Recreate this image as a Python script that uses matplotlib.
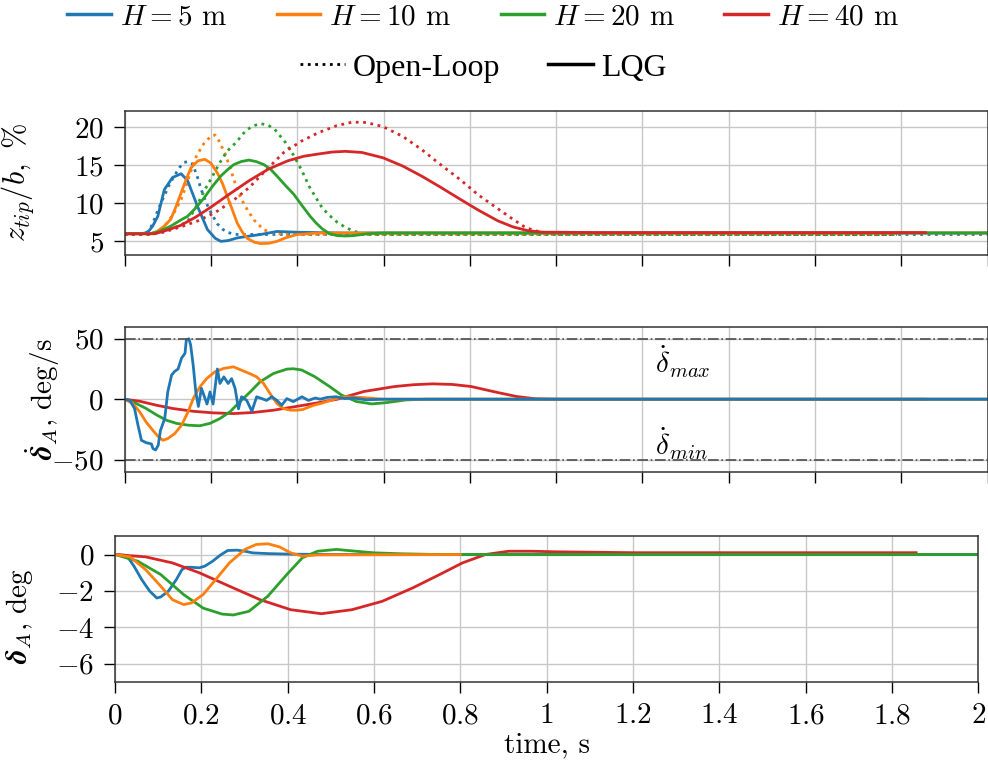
import matplotlib
matplotlib.use("Agg")
import matplotlib.pyplot as plt
from matplotlib.lines import Line2D
from matplotlib.ticker import FuncFormatter

plt.rcParams['mathtext.fontset'] = 'cm'
plt.rcParams['font.family'] = 'serif'
plt.rcParams['font.serif'] = ['cmr10', 'DejaVu Serif']
plt.rcParams['axes.formatter.use_mathtext'] = True

colors = ['#1f77b4', '#ff7f0e', '#2ca02c', '#d62728']
heights = [5, 10, 20, 40]

# ---- tip deflection z_tip/b, %  (LQG solid, open-loop dotted)
zt_lqg_t = [
    [0, 0.04, 0.054, 0.065, 0.077, 0.092, 0.111, 0.131, 0.146, 0.169, 0.192, 0.21, 0.223, 0.24, 0.261, 0.29, 0.315, 0.353, 0.4, 0.5, 1.0, 2.0],
    [0, 0.06, 0.075, 0.09, 0.107, 0.12, 0.131, 0.143, 0.154, 0.17, 0.186, 0.2, 0.215, 0.227, 0.238, 0.25, 0.261, 0.273, 0.284, 0.3, 0.315, 0.335, 0.353, 0.375, 0.4, 0.45, 0.6, 2.0],
    [0, 0.06, 0.08, 0.107, 0.13, 0.146, 0.165, 0.184, 0.203, 0.223, 0.238, 0.253, 0.27, 0.288, 0.305, 0.323, 0.338, 0.353, 0.372, 0.392, 0.41, 0.43, 0.444, 0.458, 0.475, 0.493, 0.511, 0.53, 0.564, 0.6, 0.7, 2.0],
    [0, 0.07, 0.1, 0.13, 0.165, 0.2, 0.245, 0.289, 0.333, 0.378, 0.415, 0.449, 0.48, 0.511, 0.55, 0.599, 0.645, 0.688, 0.73, 0.776, 0.82, 0.865, 0.9, 0.935, 0.97, 1.0, 1.1, 1.856],
]
zt_lqg_v = [
    [6.0, 6.0, 6.2, 7.0, 8.3, 11.8, 13.4, 13.9, 13.0, 9.6, 6.55, 5.4, 5.0, 5.1, 5.45, 5.7, 5.9, 6.3, 6.2, 6.1, 6.1, 6.1],
    [6.0, 6.0, 6.3, 6.9, 7.9, 9.7, 11.4, 13.2, 14.7, 15.6, 15.8, 15.3, 14.0, 12.6, 10.9, 9.1, 7.4, 6.2, 5.4, 4.9, 4.7, 4.75, 5.0, 5.5, 5.9, 6.1, 6.1, 6.1],
    [6.0, 6.0, 6.3, 7.0, 7.8, 8.3, 9.4, 10.7, 12.2, 13.6, 14.4, 15.1, 15.5, 15.7, 15.5, 15.1, 14.5, 13.6, 12.4, 11.2, 9.8, 8.3, 7.4, 6.65, 6.0, 5.75, 5.7, 5.75, 6.0, 6.1, 6.1, 6.1],
    [6.0, 6.0, 6.5, 7.1, 8.2, 9.5, 11.3, 13.0, 14.5, 15.6, 16.2, 16.5, 16.75, 16.85, 16.7, 16.0, 14.9, 13.6, 12.2, 10.6, 9.1, 7.7, 6.9, 6.4, 6.2, 6.2, 6.15, 6.15],
]
zt_ol_t = [
    [0, 0.045, 0.058, 0.069, 0.08, 0.092, 0.104, 0.115, 0.127, 0.138, 0.148, 0.157, 0.167, 0.177, 0.187, 0.196, 0.206, 0.215, 0.227, 0.238, 0.25, 0.261, 0.3, 2.0],
    [0, 0.06, 0.08, 0.1, 0.115, 0.131, 0.146, 0.157, 0.167, 0.184, 0.201, 0.21, 0.219, 0.234, 0.246, 0.257, 0.269, 0.285, 0.3, 0.323, 0.346, 0.37, 1.79],
    [0, 0.06, 0.09, 0.12, 0.146, 0.17, 0.185, 0.2, 0.22, 0.238, 0.258, 0.281, 0.298, 0.315, 0.333, 0.35, 0.373, 0.392, 0.411, 0.428, 0.446, 0.458, 0.475, 0.493, 0.51, 0.528, 0.55, 0.58, 1.79],
    [0, 0.05, 0.09, 0.13, 0.17, 0.21, 0.25, 0.289, 0.33, 0.369, 0.41, 0.449, 0.49, 0.528, 0.56, 0.599, 0.645, 0.688, 0.73, 0.776, 0.82, 0.865, 0.9, 0.927, 0.95, 0.971, 1.0, 1.79],
]
zt_ol_v = [
    [5.9, 5.9, 6.5, 7.9, 9.5, 11.0, 12.5, 13.6, 14.7, 15.4, 15.5, 15.2, 13.8, 11.9, 10.4, 9.2, 8.2, 7.3, 6.6, 6.2, 6.0, 5.9, 5.9, 5.9],
    [5.9, 5.9, 6.4, 7.5, 8.8, 10.5, 12.9, 14.8, 16.3, 17.9, 18.9, 19.0, 18.2, 16.4, 14.4, 12.5, 10.7, 9.1, 7.8, 6.5, 6.1, 5.9, 5.9],
    [5.9, 5.9, 6.3, 6.9, 7.6, 10.0, 11.7, 13.2, 15.3, 16.9, 18.0, 19.6, 20.2, 20.5, 20.3, 19.6, 18.0, 16.3, 14.3, 12.2, 10.5, 9.4, 8.4, 7.5, 6.9, 6.4, 6.0, 5.9, 5.9],
    [5.9, 5.9, 6.2, 6.9, 7.7, 8.8, 10.3, 12.1, 14.5, 16.7, 18.2, 19.3, 20.2, 20.7, 20.65, 20.1, 18.8, 17.1, 15.2, 13.2, 11.1, 9.3, 7.9, 6.9, 6.4, 6.2, 5.95, 5.9],
]

# ---- aileron rate, deg/s
rate_t = [
    [0, 0.012, 0.023, 0.031, 0.039, 0.05, 0.062, 0.066, 0.072, 0.078, 0.083, 0.093, 0.1, 0.109, 0.116, 0.124, 0.132, 0.14, 0.143, 0.149, 0.153, 0.159, 0.165, 0.171, 0.178, 0.184, 0.191, 0.198, 0.205, 0.215, 0.221, 0.23, 0.24, 0.248, 0.256, 0.264, 0.271, 0.283, 0.295, 0.306, 0.318, 0.329, 0.341, 0.353, 0.364, 0.376, 0.391, 0.411, 0.426, 0.442, 0.453, 0.47, 0.49, 0.51, 0.53, 0.56, 0.6, 2.0],
    [0, 0.019, 0.035, 0.05, 0.066, 0.078, 0.089, 0.1, 0.116, 0.132, 0.147, 0.159, 0.174, 0.19, 0.209, 0.229, 0.252, 0.271, 0.291, 0.306, 0.322, 0.337, 0.353, 0.368, 0.384, 0.4, 0.413, 0.438, 0.457, 0.49, 0.51, 0.546, 0.6, 2.0],
    [0, 0.027, 0.05, 0.074, 0.097, 0.12, 0.147, 0.174, 0.198, 0.221, 0.244, 0.267, 0.291, 0.314, 0.345, 0.376, 0.391, 0.41, 0.44, 0.475, 0.502, 0.537, 0.573, 0.608, 0.652, 0.7, 2.0],
    [0, 0.035, 0.074, 0.112, 0.159, 0.205, 0.252, 0.298, 0.345, 0.391, 0.438, 0.493, 0.555, 0.626, 0.67, 0.714, 0.76, 0.803, 0.865, 0.909, 0.953, 1.0, 1.856],
]
rate_v = [
    [0, -1, -7.7, -21.5, -34, -36, -37, -41, -42, -38, -26, -16, 6, 20, 23, 25, 34, 38, 49, 50, 45, 28, 6, -6, 9, 3, -4, 6, -4, 25, 13, 18.5, 13, 17, 9, -8, 2, -1, -10, 2, 0.5, -1, 2, -1, -5, 0.5, -2, 2, -1, 1, 0, 1.5, 2, 0.5, 1, -0.5, 0, 0],
    [0, -3.6, -10.5, -19, -26, -31, -34, -32.6, -28.5, -21.5, -10.5, 0.5, 10, 17, 22.6, 25.4, 26.8, 24, 21, 18.5, 13, 4.7, -3.6, -7.7, -9.1, -9.1, -8.5, -5, -3.3, 0.5, 2.0, 1.5, 0, 0],
    [0, -3.6, -7.7, -13, -17.4, -20, -21.5, -22, -20, -16, -10.5, -2.2, 6, 14.4, 21.3, 24.9, 25.2, 24.2, 18.8, 10.5, 3.6, -1.9, -3.9, -2.8, -0.6, 0, 0],
    [0, -1.7, -5, -7.7, -10, -11.3, -11.9, -11, -9.1, -6.4, -3.6, 0, 6.4, 10.5, 12.0, 12.7, 12.2, 10.5, 5.5, 2.2, 0.3, 0, 0],
]
rate_limits = [50, -50]

# ---- aileron deflection, deg
defl_t = [
    [0, 0.027, 0.044, 0.062, 0.08, 0.097, 0.106, 0.124, 0.142, 0.155, 0.164, 0.177, 0.195, 0.208, 0.226, 0.243, 0.261, 0.283, 0.301, 0.319, 0.354, 0.407, 0.5, 2.0],
    [0, 0.035, 0.071, 0.106, 0.133, 0.159, 0.177, 0.204, 0.23, 0.265, 0.301, 0.327, 0.354, 0.381, 0.407, 0.434, 0.469, 0.8],
    [0, 0.053, 0.106, 0.159, 0.204, 0.248, 0.274, 0.31, 0.354, 0.398, 0.434, 0.469, 0.513, 0.558, 0.602, 0.664, 0.75, 2.0],
    [0, 0.071, 0.133, 0.195, 0.265, 0.336, 0.407, 0.478, 0.549, 0.619, 0.69, 0.752, 0.805, 0.858, 0.912, 0.965, 1.018, 1.2, 1.856],
]
defl_v = [
    [0, -0.05, -0.64, -1.38, -2.0, -2.39, -2.33, -2.0, -1.38, -0.83, -0.7, -0.7, -0.73, -0.64, -0.37, -0.05, 0.22, 0.24, 0.18, 0.09, 0.05, 0.02, 0, 0],
    [0, -0.13, -0.83, -1.74, -2.48, -2.75, -2.66, -2.2, -1.47, -0.46, 0.28, 0.55, 0.59, 0.42, 0.09, -0.09, -0.02, 0],
    [0, -0.37, -1.1, -2.2, -2.94, -3.27, -3.32, -3.12, -2.29, -1.1, -0.18, 0.18, 0.28, 0.18, 0.09, 0.04, 0, 0],
    [0, -0.13, -0.46, -1.0, -1.74, -2.48, -3.03, -3.25, -3.03, -2.57, -1.83, -1.1, -0.46, 0, 0.18, 0.18, 0.15, 0.1, 0.1],
]

W, H = 988, 764
fig = plt.figure(figsize=(W / 100, H / 100), dpi=100)

def px_axes(l, t, r, b):
    return fig.add_axes([l / W, 1 - b / H, (r - l) / W, (b - t) / H])

ax1 = px_axes(124.6, 110.7, 987.6, 255)
ax2 = px_axes(124.6, 326.7, 987.6, 471.7)
ax3 = px_axes(115, 536.3, 978.3, 682)

lw = 2.0
fs = 21
fmt = FuncFormatter(lambda v, p: '$%g$' % v)

for i in range(4):
    ax1.plot(zt_ol_t[i], zt_ol_v[i], ':', color=colors[i], lw=lw)
for i in range(4):
    ax1.plot(zt_lqg_t[i], zt_lqg_v[i], '-', color=colors[i], lw=lw)

for i in [3, 2, 1, 0]:
    ax2.plot(rate_t[i], rate_v[i], '-', color=colors[i], lw=lw)
for lim in rate_limits:
    ax2.axhline(lim, color='0.3', lw=1.2, ls='-.')
ax2.text(1.23, 31, r'$\dot{\delta}_{max}$', fontsize=fs, ha='left', va='center')
ax2.text(1.23, -37, r'$\dot{\delta}_{min}$', fontsize=fs, ha='left', va='center')

for i in [0, 3, 2, 1]:
    ax3.plot(defl_t[i], defl_v[i], '-', color=colors[i], lw=lw)

ax1.set_ylim(3.2, 22.2)
ax1.set_yticks([5, 10, 15, 20])
ax2.set_ylim(-60, 60)
ax2.set_yticks([-50, 0, 50])
ax3.set_ylim(-7, 1)
ax3.set_yticks([-6, -4, -2, 0])

for ax in (ax1, ax2, ax3):
    ax.set_xlim(0, 2)
    ax.set_xticks([0, 0.2, 0.4, 0.6, 0.8, 1, 1.2, 1.4, 1.6, 1.8, 2])
    ax.grid(True, color='0.78', lw=1)
    ax.set_axisbelow(True)
    ax.tick_params(direction='out', length=8, width=1, labelsize=fs, pad=7)
    ax.xaxis.set_major_formatter(fmt)
    ax.yaxis.set_major_formatter(fmt)
    for s in ax.spines.values():
        s.set_linewidth(1.1)
        s.set_color('0.2')
ax1.tick_params(labelbottom=False)
ax2.tick_params(labelbottom=False)

ax1.set_ylabel(r'$z_{tip}/b,\ \%$', fontsize=fs + 1)
ax2.set_ylabel(r'$\dot{\boldsymbol{\delta}}_A$, deg/s', fontsize=fs)
ax3.set_ylabel(r'$\boldsymbol{\delta}_A$, deg', fontsize=fs)
ax3.set_xlabel('time, s', fontsize=fs, labelpad=2)
ax1.yaxis.set_label_coords(-0.103, 0.5)
ax2.yaxis.set_label_coords(-0.072, 0.5)
ax3.yaxis.set_label_coords(-0.093, 0.45)

h_lines = [Line2D([], [], color=c, lw=2.5) for c in colors]
h_labels = [r'$H = %d$ m' % h for h in heights]
fig.legend(h_lines, h_labels, loc='center', bbox_to_anchor=(483 / W, 1 - 17 / H),
           ncol=4, frameon=False, fontsize=fs, handlelength=1.5, handletextpad=0.3,
           columnspacing=1.7, borderaxespad=0, borderpad=0)
s_lines = [Line2D([], [], color='k', lw=2, ls=':'), Line2D([], [], color='k', lw=2.5)]
fig.legend(s_lines, ['Open-Loop', 'LQG'], loc='center', bbox_to_anchor=(483 / W, 1 - 68 / H),
           ncol=2, frameon=False, prop={'family': 'Liberation Serif', 'size': 23},
           handlelength=1.4, handletextpad=0.25, columnspacing=1.5,
           borderaxespad=0, borderpad=0)

fig.savefig('out.png', dpi=100)
